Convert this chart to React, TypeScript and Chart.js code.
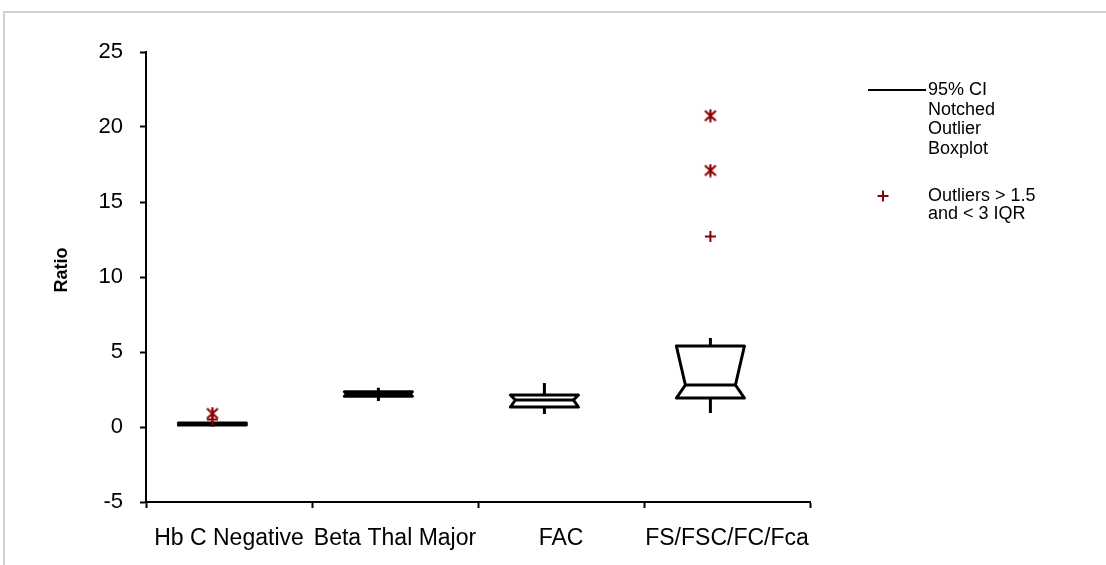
import { useEffect, useRef } from 'react';
import { Chart, registerables } from 'chart.js';

Chart.register(...registerables);

// Groups on the horizontal axis
const categories = ['Hb C Negative', 'Beta Thal Major', 'FAC', 'FS/FSC/FC/Fca'];

// Five-number summaries per group
const whiskerLow = [0.03, 1.73, 0.87, 0.93];
const quartile1 = [0.13, 2.05, 1.33, 1.93];
const medians = [0.2, 2.2, 1.8, 2.8];
const quartile3 = [0.27, 2.35, 2.13, 5.4];
const whiskerHigh = [0.35, 2.62, 2.93, 5.93];

// Outliers beyond 3 IQR (asterisk) and between 1.5 and 3 IQR (plus)
const farOutliers: number[][] = [[0.9], [], [], [20.75, 17.1]];
const nearOutliers: number[][] = [[0.5], [], [], [12.7]];

// Vertical axis
const yMin = -5;
const yMax = 25;
const yStep = 5;

// Legend text
const legendBoxLines = ['95% CI', 'Notched', 'Outlier', 'Boxplot'];
const legendOutlierLines = ['Outliers > 1.5', 'and < 3 IQR'];

const FONT = '"Liberation Sans", Arial, Helvetica, sans-serif';
const OUTLIER_RED = '#8b0000';
const BOX_SHIFT = -0.1; // boxes sit slightly left of the category centre
const BOX_HALF = 0.205; // half box width, in category units
const NOTCH_PX = 9;

function makeAsterisk(): HTMLCanvasElement {
  const c = document.createElement('canvas');
  c.width = 14;
  c.height = 14;
  const g = c.getContext('2d')!;
  g.strokeStyle = OUTLIER_RED;
  g.lineWidth = 2.2;
  g.beginPath();
  g.moveTo(1.5, 2); g.lineTo(12.5, 12);
  g.moveTo(12.5, 2); g.lineTo(1.5, 12);
  g.moveTo(7, 0.5); g.lineTo(7, 13.5);
  g.stroke();
  return c;
}

function drawPlus(ctx: CanvasRenderingContext2D, x: number, y: number) {
  ctx.save();
  ctx.strokeStyle = OUTLIER_RED;
  ctx.lineWidth = 2;
  ctx.beginPath();
  ctx.moveTo(x - 5.5, y); ctx.lineTo(x + 5.5, y);
  ctx.moveTo(x, y - 5.5); ctx.lineTo(x, y + 5.5);
  ctx.stroke();
  ctx.restore();
}

const boxPlugin = {
  id: 'notchedBoxes',
  beforeDatasetsDraw(chart: any) {
    const { ctx } = chart;
    const xs = chart.scales.xv;
    const ys = chart.scales.y;
    const halfW = xs.getPixelForValue(BOX_HALF) - xs.getPixelForValue(0);
    ctx.save();
    ctx.strokeStyle = '#000';
    ctx.lineWidth = 3;
    categories.forEach((_, i) => {
      const cx = xs.getPixelForValue(i + BOX_SHIFT);
      const pLo = ys.getPixelForValue(whiskerLow[i]);
      const pQ1 = ys.getPixelForValue(quartile1[i]);
      const pMed = ys.getPixelForValue(medians[i]);
      const pQ3 = ys.getPixelForValue(quartile3[i]);
      const pHi = ys.getPixelForValue(whiskerHigh[i]);
      const L = cx - halfW;
      const R = cx + halfW;
      // whiskers
      ctx.lineCap = 'butt';
      ctx.beginPath();
      ctx.moveTo(cx, pQ3); ctx.lineTo(cx, pHi);
      ctx.moveTo(cx, pQ1); ctx.lineTo(cx, pLo);
      ctx.stroke();
      // notched box
      const inset = Math.max(0, Math.min(NOTCH_PX, pMed - pQ3, pQ1 - pMed));
      ctx.lineJoin = 'round';
      ctx.beginPath();
      ctx.moveTo(L, pQ3);
      ctx.lineTo(R, pQ3);
      ctx.lineTo(R - inset, pMed);
      ctx.lineTo(R, pQ1);
      ctx.lineTo(L, pQ1);
      ctx.lineTo(L + inset, pMed);
      ctx.closePath();
      ctx.stroke();
      // median
      ctx.beginPath();
      ctx.moveTo(L + inset, pMed);
      ctx.lineTo(R - inset, pMed);
      ctx.stroke();
    });
    ctx.restore();
  },
};

const textPlugin = {
  id: 'sideText',
  afterDraw(chart: any) {
    const { ctx, chartArea } = chart;
    ctx.save();
    // axis title
    ctx.fillStyle = '#000';
    ctx.font = `bold 18px ${FONT}`;
    ctx.textAlign = 'center';
    ctx.textBaseline = 'middle';
    ctx.translate(62, 270);
    ctx.rotate(-Math.PI / 2);
    ctx.fillText('Ratio', 0, 0);
    ctx.restore();

    // legend
    ctx.save();
    const lx = chartArea.right + 58;
    const tx = chartArea.right + 118;
    const top = 90;
    const lh = 19.6;
    ctx.strokeStyle = '#000';
    ctx.lineWidth = 2;
    ctx.beginPath();
    ctx.moveTo(lx, top);
    ctx.lineTo(tx - 2, top);
    ctx.stroke();
    ctx.fillStyle = '#000';
    ctx.font = `18px ${FONT}`;
    ctx.textAlign = 'left';
    ctx.textBaseline = 'middle';
    legendBoxLines.forEach((t, k) => ctx.fillText(t, tx, top + k * lh));
    const top2 = 196;
    drawPlus(ctx, lx + 15, top2);
    legendOutlierLines.forEach((t, k) => ctx.fillText(t, tx, top2 + k * 18.5));
    ctx.restore();
  },
};

export default function App() {
  const ref = useRef<HTMLCanvasElement | null>(null);

  useEffect(() => {
    if (!ref.current) return;
    const star = makeAsterisk();
    const farPoints = farOutliers.flatMap((vals, i) => vals.map((v) => ({ x: i + BOX_SHIFT, y: v })));
    const nearPoints = nearOutliers.flatMap((vals, i) => vals.map((v) => ({ x: i + BOX_SHIFT, y: v })));

    const chart = new Chart(ref.current, {
      type: 'scatter',
      data: {
        labels: categories,
        datasets: [
          {
            label: 'Outliers > 3 IQR',
            data: farPoints,
            xAxisID: 'xv',
            yAxisID: 'y',
            pointStyle: star as any,
            pointRadius: 7,
          },
          {
            label: 'Outliers > 1.5 and < 3 IQR',
            data: nearPoints,
            xAxisID: 'xv',
            yAxisID: 'y',
            pointStyle: 'cross',
            pointRadius: 5.5,
            borderColor: OUTLIER_RED,
            backgroundColor: OUTLIER_RED,
            pointBorderWidth: 2,
          },
        ],
      },
      options: {
        responsive: false,
        animation: false,
        events: [],
        layout: { padding: { top: 52, right: 296, left: 0, bottom: 0 } },
        plugins: { legend: { display: false }, tooltip: { enabled: false } },
        scales: {
          x: {
            type: 'category',
            labels: categories,
            offset: true,
            grid: {
              offset: true,
              drawOnChartArea: false,
              drawTicks: true,
              tickLength: 6,
              tickColor: '#000',
              tickWidth: 2,
              color: '#000',
            },
            border: { display: true, color: '#000', width: 2 },
            ticks: { color: '#000', font: { family: FONT, size: 23 }, padding: 17, maxRotation: 0, autoSkip: false },
            afterFit: (s: any) => { s.height = 63; },
          },
          xv: {
            type: 'linear',
            display: false,
            min: -0.5,
            max: 3.5,
          },
          y: {
            type: 'linear',
            min: yMin,
            max: yMax,
            ticks: { stepSize: yStep, color: '#000', font: { family: FONT, size: 22 }, padding: 17 },
            grid: {
              drawOnChartArea: false,
              drawTicks: true,
              tickLength: 6,
              tickColor: '#000',
              tickWidth: 2,
              color: '#000',
            },
            border: { display: true, color: '#000', width: 2 },
            afterFit: (s: any) => { s.width = 146; },
          },
        },
      },
      plugins: [boxPlugin, textPlugin],
    } as any);
    return () => chart.destroy();
  }, []);

  return (
    <div style={{ position: 'fixed', left: 0, top: 0, width: 1106, height: 565, background: '#fff' }}>
      <canvas ref={ref} width={1106} height={565} style={{ position: 'absolute', left: 0, top: 0, width: 1106, height: 565 }} />
      <div
        style={{
          position: 'absolute',
          left: 3,
          top: 11,
          right: 0,
          bottom: 0,
          borderTop: '2px solid #d0d0d0',
          borderLeft: '2px solid #d0d0d0',
          pointerEvents: 'none',
        }}
      />
    </div>
  );
}
